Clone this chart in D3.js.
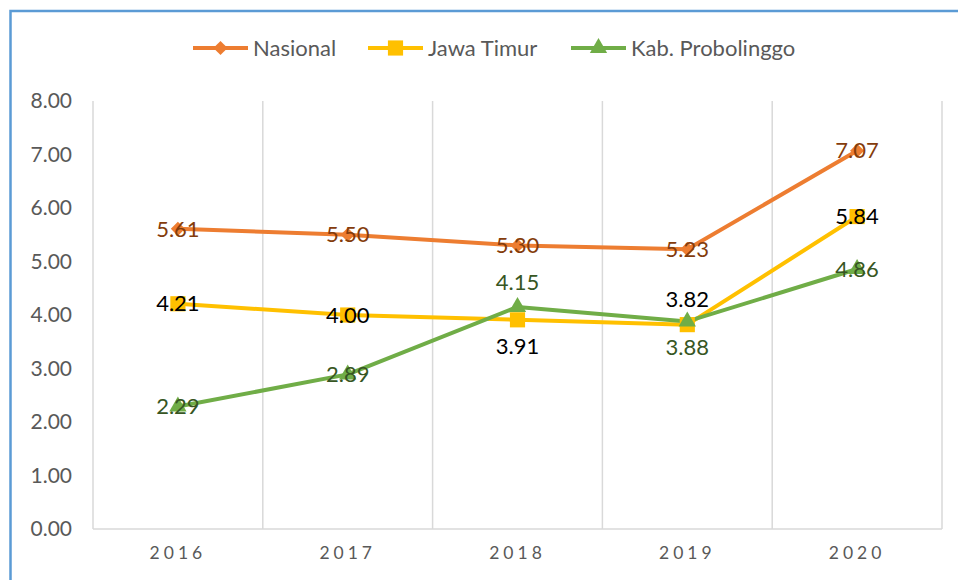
<!DOCTYPE html>
<html>
<head>
<meta charset="utf-8">
<script src="https://cdn.jsdelivr.net/npm/d3@7"></script>
<style>
	body { margin: 0; background: #fff; font-family: Lato, "Open Sans", sans-serif; }
	svg text { font-family: Lato, "Open Sans", sans-serif; }
	.grid line { stroke: #d9d9d9; stroke-width: 1.5; }
	.y.axis path, .y.axis line, .x.axis path, .x.axis line { display: none; }
	.y.axis text { fill: #595959; font-size: 21px; }
	.x.axis text { fill: #595959; font-size: 17.5px; letter-spacing: 4px; }
	.legend text { fill: #595959; font-size: 22px; }
</style>
</head>
<body>
<div id="chart"></div>
<script>
// data
let years		= ["2016", "2017", "2018", "2019", "2020"];
let nasional	= [5.61, 5.50, 5.30, 5.23, 7.07];
let jawaTimur	= [4.21, 4.00, 3.91, 3.82, 5.84];
let probolinggo	= [2.29, 2.89, 4.15, 3.88, 4.86];
let yTicks		= [0, 1, 2, 3, 4, 5, 6, 7, 8];

// label placement per point: c = centre, a = above, b = below
let series = [
	{ name: "Nasional", values: nasional, color: "#ed7d31", labelColor: "#843c0c", symbol: "diamond", place: ["c", "c", "c", "c", "c"] },
	{ name: "Jawa Timur", values: jawaTimur, color: "#ffc000", labelColor: "#000000", symbol: "square", place: ["c", "c", "b", "a", "c"] },
	{ name: "Kab. Probolinggo", values: probolinggo, color: "#70ad47", labelColor: "#375623", symbol: "triangle", place: ["c", "c", "a", "b", "c"] }
];

let canvasWidth		= 958;
let canvasHeight	= 580;
let margin			= { top: 101, right: 16, bottom: 51, left: 93 };
let width			= canvasWidth - margin.left - margin.right;
let height			= canvasHeight - margin.top - margin.bottom;

let x = d3.scaleBand().range([0, width]).domain(years).padding(0);
let y = d3.scaleLinear().range([height, 0]).domain([0, 8]);
let cx = (d) => x(d) + x.bandwidth() / 2;

function marker(sel, kind, color) {
	if (kind === "diamond") {
		sel.append("path").attr("d", d3.symbol().type(d3.symbolSquare).size(100)).attr("transform", "rotate(45)").attr("fill", color);
	} else if (kind === "square") {
		sel.append("path").attr("d", d3.symbol().type(d3.symbolSquare).size(230)).attr("fill", color);
	} else {
		sel.append("path").attr("d", d3.symbol().type(d3.symbolTriangle).size(130)).attr("fill", color);
	}
}

let root = d3.select("#chart").append("svg")
	.attr("width", canvasWidth)
	.attr("height", canvasHeight);

// blue frame
root.append("path")
	.attr("d", "M10.5,600 L10.5,11 L970,11")
	.attr("fill", "none")
	.attr("stroke", "#5b9bd5")
	.attr("stroke-width", 2.5);

let svg = root.append("g")
	.attr("transform", "translate(" + margin.left + "," + margin.top + ")");

// vertical grid at band edges
let edges = years.map((o) => x(o)).concat([width]);
svg.append("g")
	.attr("class", "grid")
	.selectAll("line")
	.data(edges)
	.enter().append("line")
		.attr("x1", (o) => o).attr("x2", (o) => o)
		.attr("y1", 0).attr("y2", height);

svg.append("line")
	.attr("x1", 0).attr("x2", width)
	.attr("y1", height).attr("y2", height)
	.attr("stroke", "#d9d9d9")
	.attr("stroke-width", 1.5);

svg.append("g")
	.attr("class", "y axis")
	.call(d3.axisLeft(y).tickValues(yTicks).tickFormat(d3.format(".2f")).tickSize(0).tickPadding(21));

svg.append("g")
	.attr("class", "x axis")
	.attr("transform", "translate(0," + height + ")")
	.call(d3.axisBottom(x).tickSize(0).tickPadding(18));

let line = d3.line()
	.x((o, i) => cx(years[i]))
	.y((o) => y(o));

series.forEach((s) => {
	svg.append("path")
		.datum(s.values)
		.attr("fill", "none")
		.attr("stroke", s.color)
		.attr("stroke-width", 4)
		.attr("stroke-linejoin", "round")
		.attr("d", line);
});

series.forEach((s) => {
	svg.selectAll(null)
		.data(s.values)
		.enter().append("g")
			.attr("transform", (o, i) => "translate(" + cx(years[i]) + "," + y(o) + ")")
			.each(function() { marker(d3.select(this), s.symbol, s.color); });
});

series.forEach((s) => {
	svg.selectAll(null)
		.data(s.values)
		.enter().append("text")
			.attr("x", (o, i) => cx(years[i]))
			.attr("y", (o, i) => y(o) + (s.place[i] === "a" ? -25 : s.place[i] === "b" ? 26 : 0))
			.attr("dy", "0.35em")
			.attr("text-anchor", "middle")
			.attr("font-size", "22px")
			.attr("fill", s.labelColor)
			.text((o) => d3.format(".2f")(o));
});

// legend
let legendX = [193, 368, 571];
let legend = root.append("g").attr("class", "legend");
series.forEach((s, i) => {
	let g = legend.append("g").attr("transform", "translate(" + legendX[i] + ",48)");
	g.append("line").attr("x1", 0).attr("x2", 55).attr("stroke", s.color).attr("stroke-width", 4);
	marker(g.append("g").attr("transform", "translate(27.5,0)"), s.symbol, s.color);
	g.append("text").attr("x", 60).attr("dy", "0.35em").text(s.name);
});
</script>
</body>
</html>
